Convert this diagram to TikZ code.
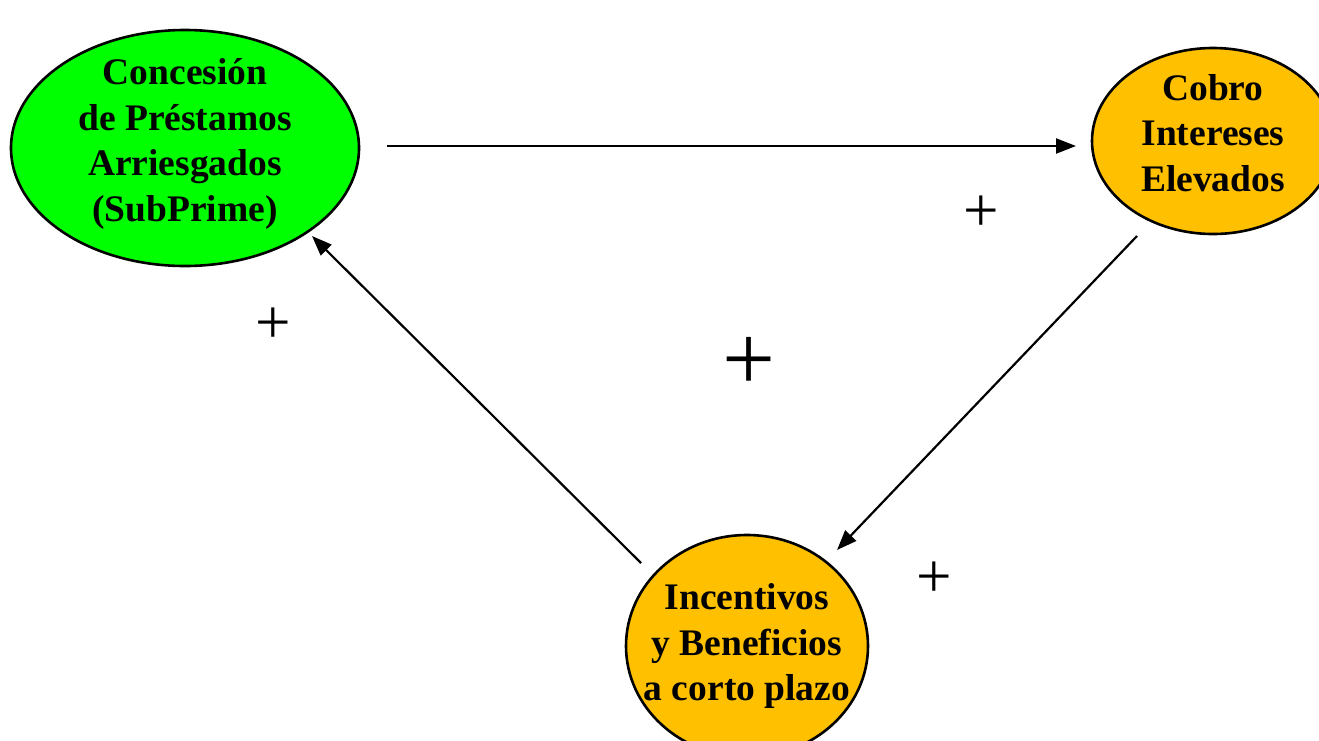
\documentclass[tikz,border=0pt]{standalone}
\usepackage{fontspec}
\setmainfont{Liberation Serif}
\usetikzlibrary{shapes.geometric,arrows.meta}
\definecolor{boxgreen}{HTML}{00FF00}
\definecolor{boxorange}{HTML}{FFC000}
\tikzset{
  bubble/.style={ellipse,draw=black,line width=2.6pt,inner sep=0pt},
  label/.style={font=\fontsize{37.5}{45.5}\selectfont\bfseries,align=center,text=black},
  link/.style={line width=2.2pt,-{Triangle[length=20pt,width=15pt]}},
  sign/.style={font=\fontsize{63}{63}\selectfont,text=black,inner sep=0pt},
  bigsign/.style={font=\fontsize{94}{94}\selectfont,text=black,inner sep=0pt}
}
\begin{document}
\begin{tikzpicture}[x=1pt,y=-1pt]
\useasboundingbox (0,0) rectangle (1319,740);
\node[bubble,fill=boxgreen,minimum width=348pt,minimum height=236pt] (con) at (185,148) {};
\node[bubble,fill=boxorange,minimum width=242pt,minimum height=186pt] (cob) at (1213,141) {};
\node[bubble,fill=boxorange,minimum width=242pt,minimum height=222pt] (inc) at (747,646) {};
\node[label] (tcon) at (185,144) {Concesión\\de Préstamos\\Arriesgados\\(SubPrime)};
\node[label] (tcob) at (1213,133) {Cobro\\Intereses\\Elevados};
\node[label] (tinc) at (747,646) {Incentivos\\y Beneficios\\a corto plazo};
\coordinate (a1) at (387,146);
\coordinate (b1) at (1076,146);
\coordinate (a2) at (1137,236);
\coordinate (b2) at (837,550);
\coordinate (a3) at (641,563);
\coordinate (b3) at (312,236);
\draw[link] (a1) -- (b1);
\draw[link] (a2) -- (b2);
\draw[link] (a3) -- (b3);
\node[sign] (p1) at (981,214) {+};
\node[sign] (p2) at (273,326) {+};
\node[sign] (p3) at (934,580) {+};
\node[bigsign] (p4) at (749,364) {+};
\end{tikzpicture}
\end{document}
